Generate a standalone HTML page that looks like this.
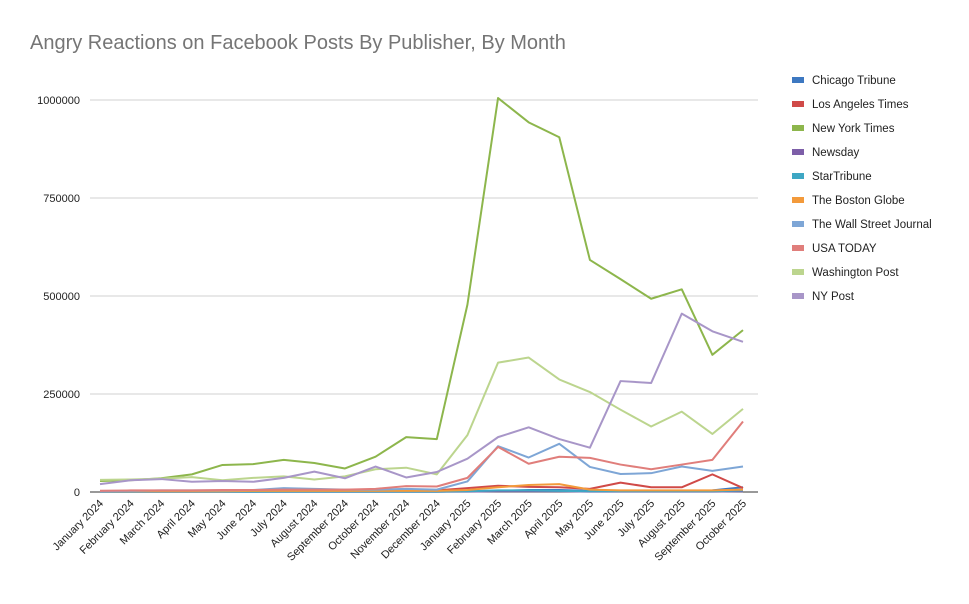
<!DOCTYPE html>
<html><head><meta charset="utf-8"><style>
body{margin:0;background:#fff;font-family:"Liberation Sans",Arial,sans-serif}
svg text{font-family:"Liberation Sans",Arial,sans-serif}
</style></head><body>
<svg id="c" width="969" height="599">
<text x="30" y="49" font-size="20" fill="#757575">Angry Reactions on Facebook Posts By Publisher, By Month</text>
</svg>
<script>
const months=["January 2024","February 2024","March 2024","April 2024","May 2024","June 2024","July 2024","August 2024","September 2024","October 2024","November 2024","December 2024","January 2025","February 2025","March 2025","April 2025","May 2025","June 2025","July 2025","August 2025","September 2025","October 2025"];
const yTicks=[0,250000,500000,750000,1000000];
const seriesNames=["Chicago Tribune","Los Angeles Times","New York Times","Newsday","StarTribune","The Boston Globe","The Wall Street Journal","USA TODAY","Washington Post","NY Post"];
const seriesColors=["#3d78c1","#d04a48","#8db64c","#7d5ea8","#3ea7c4","#f39a3b","#7ea6d6","#e07e7b","#bcd58e","#a896c8"];
const chicago=[1000,1000,1000,1000,1000,1000,1000,1000,1000,1000,1000,1000,2000,3000,5000,5000,3000,2000,2000,3000,4000,12000];
const laTimes=[3000,3000,3000,3000,3000,3000,3000,3000,3000,3000,4000,4000,10000,16000,13000,12000,8000,24000,12000,12000,45000,10000];
const nyt=[28000,30000,35000,45000,69000,71000,82000,74000,60000,90000,140000,135000,478000,1005000,943000,905000,592000,543000,493000,517000,350000,413000];
const newsday=[500,500,500,500,500,500,500,500,500,500,500,500,1000,2000,2000,2000,1000,1000,1000,1000,1000,2000];
const starTribune=[500,500,500,500,500,500,1000,1000,1000,1000,1000,1000,2000,4000,4000,3000,2000,2000,2000,2000,2000,4000];
const bostonGlobe=[2000,2000,2000,2000,2000,3000,3000,3000,3000,3000,3000,3000,5000,12000,18000,20000,6000,4000,4000,4000,4000,6000];
const wsj=[2000,3000,4000,4000,4000,5000,10000,8000,6000,6000,8000,6000,27000,117000,88000,123000,64000,46000,48000,65000,54000,65000];
const usaToday=[3000,4000,4000,4000,5000,5000,6000,6000,6000,8000,15000,14000,36000,115000,72000,90000,87000,70000,58000,70000,82000,180000];
const wapo=[31000,32000,34000,38000,30000,36000,40000,32000,40000,58000,62000,45000,145000,330000,343000,287000,255000,210000,167000,205000,148000,212000];
const nyPost=[20000,30000,33000,26000,28000,26000,36000,52000,35000,65000,37000,51000,85000,140000,165000,135000,113000,283000,278000,455000,410000,383000];
const allSeries=[chicago,laTimes,nyt,newsday,starTribune,bostonGlobe,wsj,usaToday,wapo,nyPost];
const NS="http://www.w3.org/2000/svg",svg=document.getElementById('c');
const X0=100,X1=743,Y0=492,Y1=100;
const x=i=>X0+i*(X1-X0)/(months.length-1);
const y=v=>Y0-(v/1000000)*(Y0-Y1);
function mk(t,a){const e=document.createElementNS(NS,t);for(const k in a)e.setAttribute(k,a[k]);svg.appendChild(e);return e;}
yTicks.forEach(t=>{
  if(t>0){const g=mk('line',{x1:90,x2:758,y1:y(t),y2:y(t),stroke:'#d0d0d0','stroke-width':1});
  
  }
  const l=mk('text',{x:80,y:y(t)+4,'font-size':11,'text-anchor':'end',fill:'#222'});l.textContent=t;
  
  
});
const ax=mk('line',{x1:90,x2:758,y1:Y0,y2:Y0,stroke:'#333','stroke-width':1});


months.forEach((m,i)=>{
  const t=mk('text',{x:x(i)+4,y:Y0+12,'font-size':11,'text-anchor':'end',fill:'#222',transform:`rotate(-45 ${x(i)+4} ${Y0+12})`});t.textContent=m;
  
  
});
allSeries.forEach((s,k)=>{
  const p=mk('polyline',{points:s.map((v,i)=>x(i)+','+y(v)).join(' '),fill:'none',stroke:seriesColors[k],'stroke-width':2,'stroke-linejoin':'round'});
  
  
});
seriesNames.forEach((n,k)=>{
  const yy=80+k*24;
  const r=mk('rect',{x:792,y:yy-3,width:12,height:6,fill:seriesColors[k]});
  
  
  const t=mk('text',{x:812,y:yy+4,'font-size':11.5,fill:'#222'});t.textContent=n;
  
  
});
</script>
</body></html>
